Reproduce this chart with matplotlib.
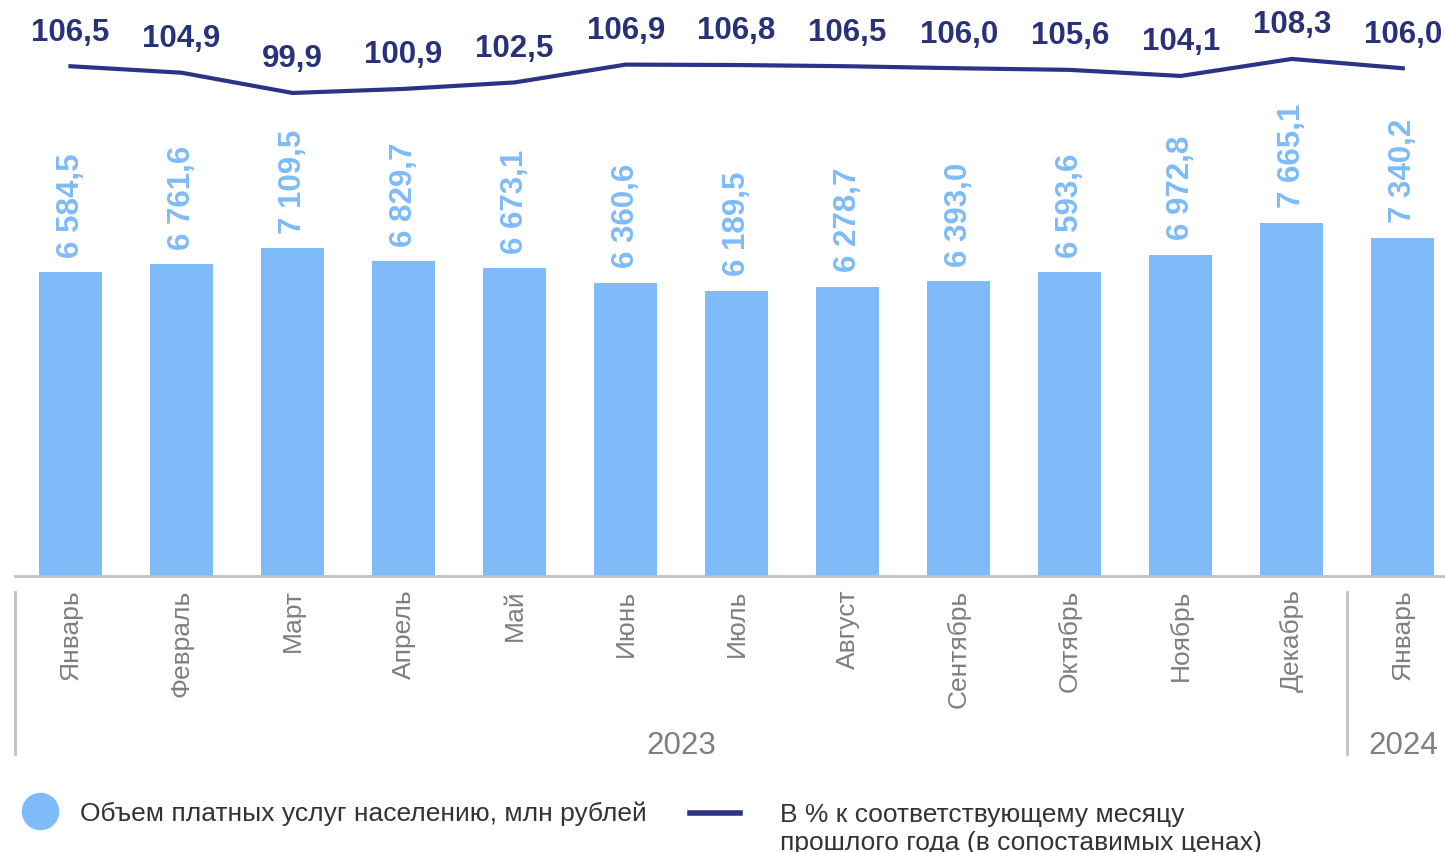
import matplotlib
matplotlib.use('Agg')
import matplotlib.pyplot as plt
from matplotlib.lines import Line2D

plt.rcParams['font.family'] = ['Liberation Sans', 'DejaVu Sans']

# data
months = ['Январь', 'Февраль', 'Март', 'Апрель', 'Май', 'Июнь', 'Июль',
          'Август', 'Сентябрь', 'Октябрь', 'Ноябрь', 'Декабрь', 'Январь']
volume = [6584.5, 6761.6, 7109.5, 6829.7, 6673.1, 6360.6, 6189.5,
          6278.7, 6393.0, 6593.6, 6972.8, 7665.1, 7340.2]
pct = [106.5, 104.9, 99.9, 100.9, 102.5, 106.9, 106.8,
       106.5, 106.0, 105.6, 104.1, 108.3, 106.0]
years = ['2023', '2024']

bar_color = '#7fbbf9'
line_color = '#2b3387'
label_dark = '#27327a'
gray = '#7f7f7f'

def fmt(v):
    return f"{v:,.1f}".replace(",", " ").replace(".", ",")

W, H = 1445, 853
fig = plt.figure(figsize=(W / 100, H / 100), dpi=100)
ax = fig.add_axes([15 / W, (H - 577) / H, 1430 / W, 577 / H])
x = list(range(len(months)))

ax.bar(x, volume, width=0.57, color=bar_color, zorder=2)
ax.set_ylim(0, 12516)
ax.set_xlim(-0.5, 12.38)

for xi, v in zip(x, volume):
    ax.annotate(fmt(v), (xi, v), xytext=(0, 11), textcoords='offset points',
                rotation=90, ha='center', va='bottom', fontsize=22.5,
                fontweight='bold', color=bar_color)

ax2 = ax.twinx()
ax2.plot(x, pct, color=line_color, lw=3)
ax2.set_ylim(-19.36, 123.1)
for xi, v in zip(x, pct):
    ax2.annotate(fmt(v), (xi, v), xytext=(0, 25), textcoords='offset points',
                 ha='center', va='center', fontsize=22.5, fontweight='bold',
                 color=label_dark)

for a in (ax, ax2):
    for s in ['left', 'right', 'top']:
        a.spines[s].set_visible(False)
    a.set_yticks([])
ax2.spines['bottom'].set_visible(False)
ax.spines['bottom'].set_color('#c0c0c0')
ax.spines['bottom'].set_linewidth(2)

ax.set_xticks(x)
ax.set_xticklabels(months, rotation=90, va='top', ha='center',
                   fontsize=19, color=gray)
ax.tick_params(axis='x', length=0, pad=9)

# year groups
tr = ax.get_xaxis_transform()
for xs in (-0.5, 11.5):
    ax.add_line(Line2D([xs, xs], [-0.028, -0.309], transform=tr,
                       color='#c0c0c0', lw=2, clip_on=False))
ax.text(5.5, -0.293, years[0], transform=tr, ha='center', va='center',
        fontsize=22.5, color=gray)
ax.text(12, -0.293, years[1], transform=tr, ha='center', va='center',
        fontsize=22.5, color=gray)

# legend
fig.add_artist(Line2D([40 / W], [(H - 812) / H], marker='o', markersize=26,
                      color=bar_color, transform=fig.transFigure))
fig.text(80 / W, (H - 814) / H, 'Объем платных услуг населению, млн рублей',
         ha='left', va='center', fontsize=19, color='#333333')
fig.add_artist(Line2D([690 / W, 740 / W], [(H - 814) / H] * 2, lw=4,
                      color=line_color, transform=fig.transFigure))
fig.text(780 / W, (H - 829) / H,
         'В % к соответствующему месяцу\nпрошлого года (в сопоставимых ценах)',
         ha='left', va='center', fontsize=19, color='#333333', linespacing=1.2)

fig.savefig('out.png', dpi=100)
